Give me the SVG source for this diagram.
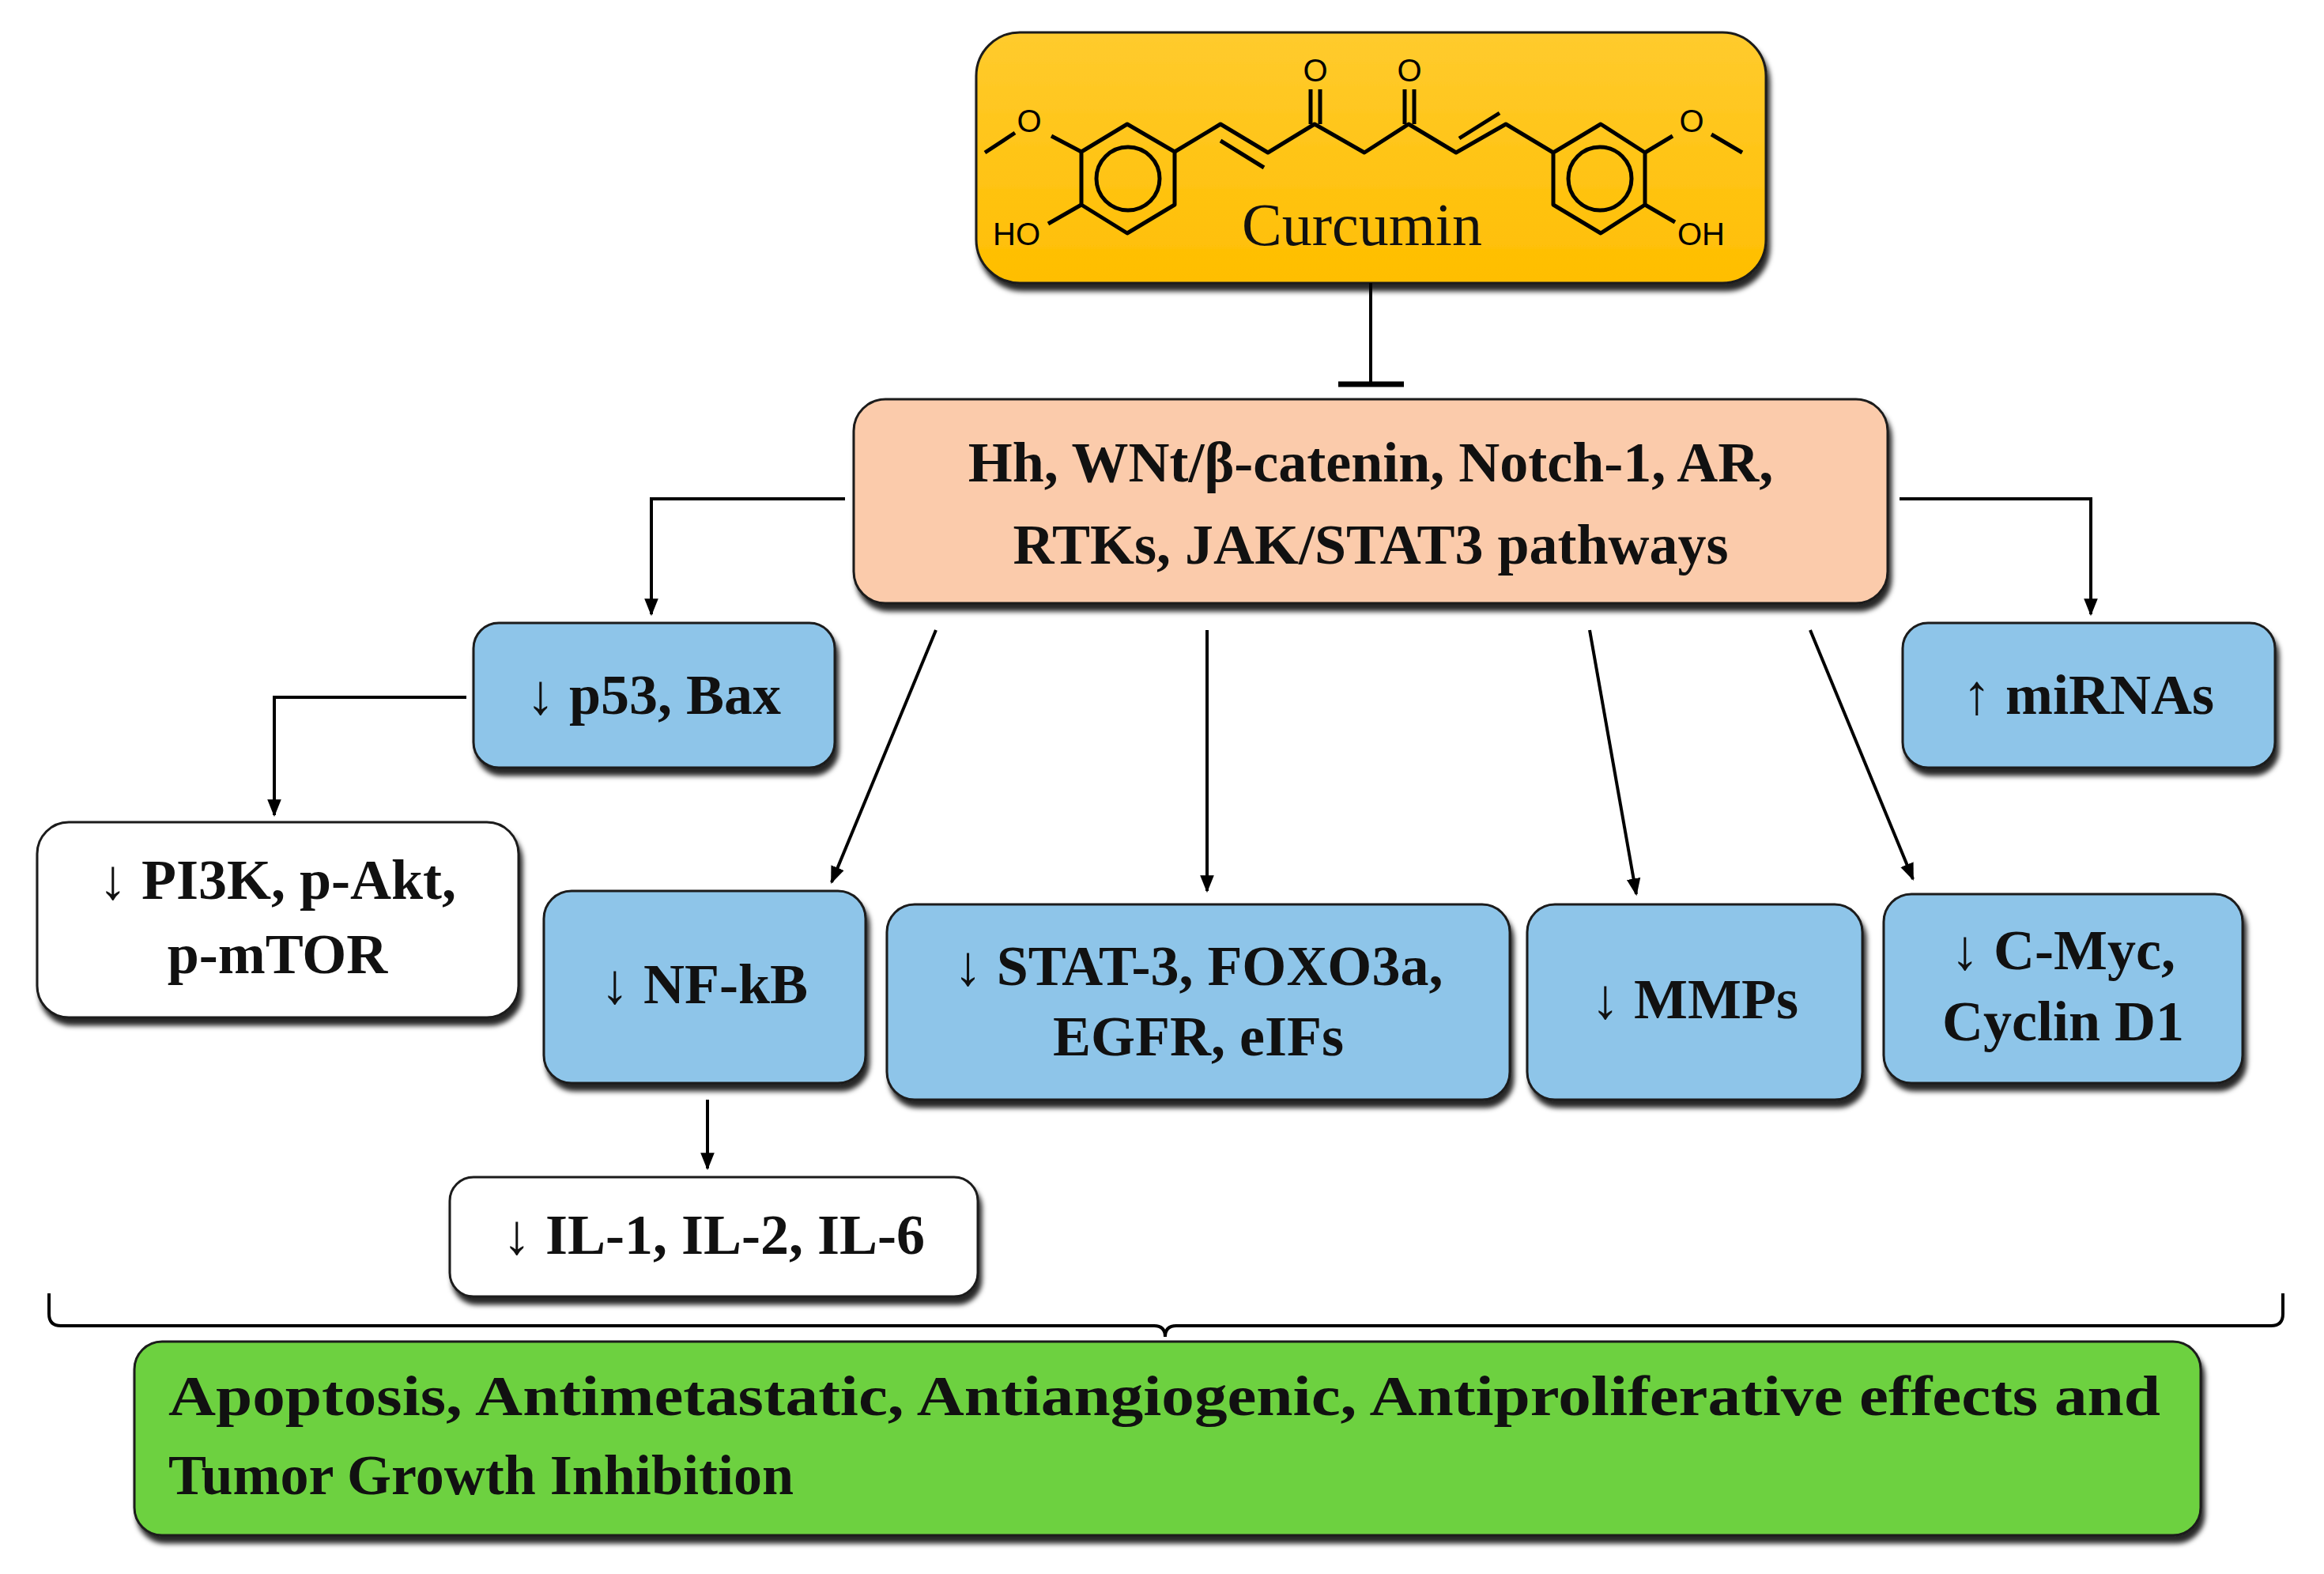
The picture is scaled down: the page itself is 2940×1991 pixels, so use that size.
<svg xmlns="http://www.w3.org/2000/svg" width="2940" height="1991" viewBox="0 0 2940 1991">
<defs>
<filter id="sh" x="-10%" y="-10%" width="130%" height="140%"><feDropShadow dx="4" dy="9" stdDeviation="3" flood-color="#000" flood-opacity="0.85"/></filter>
<linearGradient id="gold" x1="0" y1="0" x2="0" y2="1"><stop offset="0" stop-color="#FFCB2E"/><stop offset="1" stop-color="#FFBE00"/></linearGradient>
<marker id="ah" markerWidth="10" markerHeight="10" refX="9" refY="5" orient="auto" markerUnits="userSpaceOnUse" viewBox="0 0 10 10"><path d="M0,0 L10,5 L0,10 z" fill="#000"/></marker>
<marker id="a2" viewBox="0 0 10 10" refX="9" refY="5" markerWidth="22" markerHeight="22" orient="auto" markerUnits="userSpaceOnUse"><path d="M0,1 L10,5 L0,9 z" fill="#000"/></marker>
</defs>
<style>
.box{stroke:#1a1a1a;stroke-width:3;filter:url(#sh)}
.blue{fill:#8EC5E9}.white{fill:#fff}.peach{fill:#FBCBAB}.green{fill:#6DD13F}
.t{font-family:"Liberation Serif",serif;font-weight:bold;font-size:72px;fill:#111;text-anchor:middle}
.m{fill:none;stroke:#000;stroke-width:5;stroke-linejoin:round}
.at{font-family:"Liberation Sans",sans-serif;font-size:40px;fill:#000}
.c{fill:none;stroke:#000;stroke-width:4}
</style>
<g id="curcumin">
<rect class="box" x="1235" y="41" width="999" height="317" rx="55" fill="url(#gold)"/>
<path class="m" d="M1426,157 L1486,192 L1486,259 L1426,295 L1368,259 L1368,192 Z"/>
<circle class="m" cx="1427" cy="226" r="40"/>
<path class="m" d="M1368,192 L1330,172 M1284,168 L1246,193 M1368,259 L1326,283"/>
<text class="at" x="1302" y="167" text-anchor="middle">O</text>
<text class="at" x="1256" y="310">HO</text>
<path class="m" d="M1486,192 L1544,157 L1604,193 L1663,157 L1726,193 L1782,157 L1842,193 L1905,157 L1965,193"/>
<path class="m" d="M1544,178 L1599,212 M1846,175 L1897,143"/>
<path class="m" d="M1658,157 L1658,113 M1670,157 L1670,113 M1777,157 L1777,113 M1789,157 L1789,113"/>
<text class="at" x="1664" y="103" text-anchor="middle">O</text>
<text class="at" x="1783" y="103" text-anchor="middle">O</text>
<path class="m" d="M1965,193 L2025,157 L2081,193 L2081,259 L2025,295 L1965,259 Z"/>
<circle class="m" cx="2024" cy="226" r="40"/>
<path class="m" d="M2081,193 L2116,172 M2165,170 L2204,193 M2081,259 L2119,281"/>
<text class="at" x="2140" y="167" text-anchor="middle">O</text>
<text class="at" x="2122" y="310">OH</text>
<text x="1723" y="310" font-family="Liberation Serif,serif" font-size="76" text-anchor="middle" fill="#111">Curcumin</text>
</g>
<g id="pathways">
<rect class="box peach" x="1080" y="505" width="1308" height="258" rx="40"/>
<text class="t" x="1734" y="609">Hh, WNt/β-catenin, Notch-1, AR,</text>
<text class="t" x="1734" y="713">RTKs, JAK/STAT3 pathways</text>
</g>
<g id="p53"><rect class="box blue" x="599" y="788" width="457" height="183" rx="32"/><text class="t" x="827" y="903">↓ p53, Bax</text></g>
<g id="mirnas"><rect class="box blue" x="2407" y="788" width="471" height="183" rx="32"/><text class="t" x="2642" y="903">↑ miRNAs</text></g>
<g id="pi3k"><rect class="box white" x="47" y="1040" width="609" height="247" rx="40"/><text class="t" x="351" y="1137">↓ PI3K, p-Akt,</text><text class="t" x="351" y="1231">p-mTOR</text></g>
<g id="nfkb"><rect class="box blue" x="688" y="1127" width="407" height="243" rx="35"/><text class="t" x="891" y="1269">↓ NF-kB</text></g>
<g id="stat3"><rect class="box blue" x="1122" y="1144" width="788" height="247" rx="35"/><text class="t" x="1516" y="1246">↓ STAT-3, FOXO3a,</text><text class="t" x="1516" y="1335">EGFR, eIFs</text></g>
<g id="mmps"><rect class="box blue" x="1932" y="1144" width="424" height="247" rx="35"/><text class="t" x="2144" y="1288">↓ MMPs</text></g>
<g id="cmyc"><rect class="box blue" x="2383" y="1131" width="454" height="239" rx="35"/><text class="t" x="2610" y="1226">↓ C-Myc,</text><text class="t" x="2610" y="1316">Cyclin D1</text></g>
<g id="il"><rect class="box white" x="569" y="1489" width="668" height="151" rx="30"/><text class="t" x="903" y="1586">↓ IL-1, IL-2, IL-6</text></g>
<g id="outcome"><rect class="box green" x="170" y="1697" width="2614" height="245" rx="35"/>
<text class="t" x="213" y="1790" text-anchor="start" font-size="70" textLength="2520" lengthAdjust="spacingAndGlyphs" style="text-anchor:start">Apoptosis, Antimetastatic, Antiangiogenic, Antiproliferative effects and</text>
<text class="t" x="213" y="1890" font-size="70" style="text-anchor:start">Tumor Growth Inhibition</text></g>
<g id="connectors">
<path class="c" d="M1734,358 L1734,486"/><path d="M1693,486 L1776,486" stroke="#000" stroke-width="7"/>
<path class="c" d="M1069,631 L824,631 L824,777" marker-end="url(#a2)"/>
<path class="c" d="M2403,631 L2645,631 L2645,777" marker-end="url(#a2)"/>
<path class="c" d="M590,882 L347,882 L347,1031" marker-end="url(#a2)"/>
<path class="c" d="M1184,797 L1052,1116" marker-end="url(#a2)"/>
<path class="c" d="M1527,797 L1527,1127" marker-end="url(#a2)"/>
<path class="c" d="M2011,797 L2070,1131" marker-end="url(#a2)"/>
<path class="c" d="M2290,797 L2420,1112" marker-end="url(#a2)"/>
<path class="c" d="M895,1391 L895,1478" marker-end="url(#a2)"/>
<path class="c" d="M62,1636 L62,1662 Q62,1677 77,1677 L1460,1677 Q1474,1677 1474,1691 Q1474,1677 1488,1677 L2873,1677 Q2888,1677 2888,1662 L2888,1636"/>
</g>
</svg>
